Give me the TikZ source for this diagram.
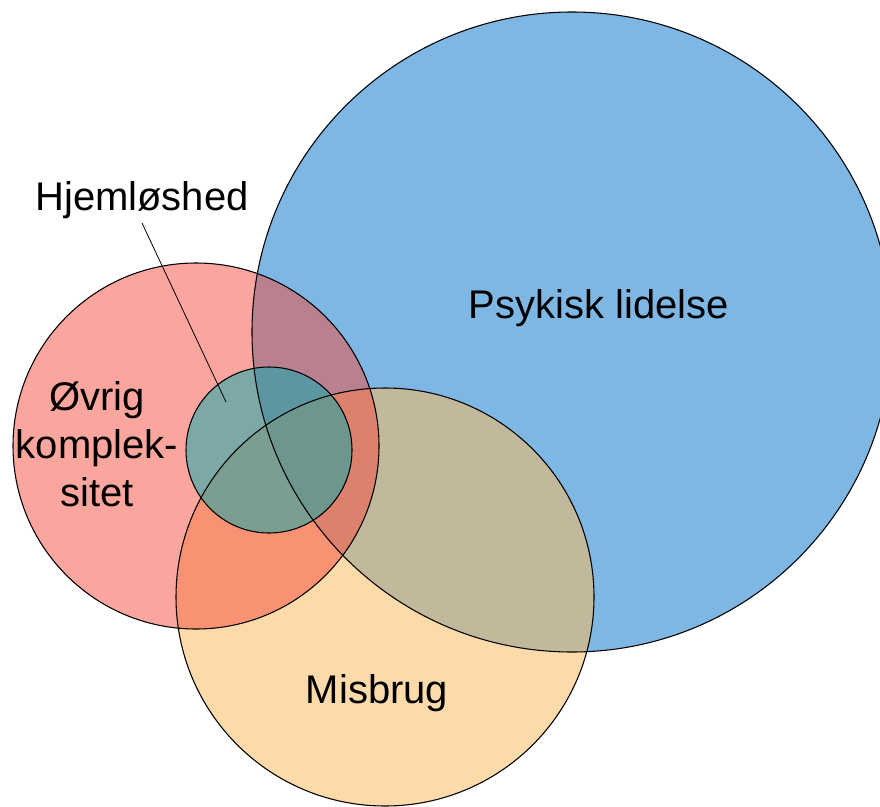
\documentclass[tikz,border=0pt]{standalone}
\usepackage{fontspec}
\setmainfont{Liberation Sans}
\usetikzlibrary{calc}
\definecolor{psyk}{RGB}{126,183,228}
\definecolor{misbrug}{RGB}{250,188,100}
\definecolor{oevrig}{RGB}{245,75,61}
\definecolor{hjem}{RGB}{0,172,176}

\begin{document}
\begin{tikzpicture}[x=0.75pt, y=-0.75pt, font=\fontsize{30}{36}\selectfont]
    \useasboundingbox (0,0) rectangle (880,806);
    \clip (0,0) rectangle (880,806);

    \coordinate (psyk-c) at (572,332);
    \coordinate (misbrug-c) at (385,597);
    \coordinate (oevrig-c) at (196,446);
    \coordinate (hjem-c) at (269,450);

    % fills first, outlines on top
    \fill[psyk] (psyk-c) circle[radius=320];
    \fill[misbrug, fill opacity=0.55] (misbrug-c) circle[radius=209];
    \fill[oevrig, fill opacity=0.5] (oevrig-c) circle[radius=183];
    \fill[hjem, fill opacity=0.5] (hjem-c) circle[radius=83];

    \draw[black, line width=0.8pt] (psyk-c) circle[radius=320];
    \draw[black, line width=0.8pt] (misbrug-c) circle[radius=209];
    \draw[black, line width=0.8pt] (oevrig-c) circle[radius=183];
    \draw[black, line width=0.8pt] (hjem-c) circle[radius=83];

    \node[anchor=base] (psyk-txt) at (599,318) {Psykisk lidelse};
    \node[anchor=base] (misbrug-txt) at (377,703) {Misbrug};
    \node[align=center] (oevrig-txt) at (97,444) {Øvrig\\komplek-\\sitet};
    \node[anchor=base] (hjem-txt) at (142,210) {Hjemløshed};

    \coordinate (hjem-pkt) at (226,402);
    \draw[line width=0.6pt] (hjem-txt.south) -- (hjem-pkt);

\end{tikzpicture}
\end{document}
